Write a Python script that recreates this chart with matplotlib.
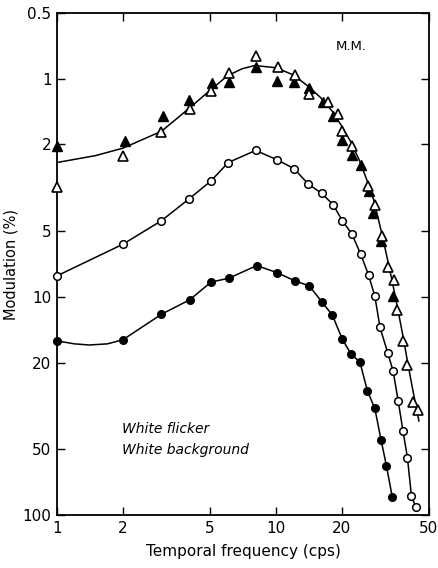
import matplotlib
matplotlib.use("Agg")
import matplotlib.pyplot as plt
from matplotlib.ticker import FixedLocator, FixedFormatter, NullLocator

plt.rcParams['font.family'] = ['DejaVu Sans']

# ── data ──

# open triangles
tri_open_x = [1.0, 2.0, 3.0, 4.05, 5.05, 6.1, 8.1, 10.2, 12.2, 14.1, 17.3, 19.3, 20.1, 22.2,
              26.4, 28.3, 30.6, 32.6, 34.7, 35.8, 38.1, 39.8, 42.1, 44.7]
tri_open_y = [3.15, 2.26, 1.75, 1.37, 1.14, 0.94, 0.79, 0.88, 0.96, 1.18, 1.28, 1.45, 1.74, 2.04,
              3.1, 3.79, 5.23, 7.26, 8.36, 11.5, 15.9, 20.5, 30.2, 33.0]

# filled triangles
tri_fill_x = [1.0, 2.04, 3.05, 4.0, 5.08, 6.1, 8.1, 10.1, 12.1, 14.2, 16.4, 18.2, 20.1, 22.2,
              24.5, 26.7, 27.9, 30.3, 34.1]
tri_fill_y = [2.03, 1.92, 1.48, 1.25, 1.05, 1.03, 0.88, 1.02, 1.03, 1.10, 1.28, 1.48, 1.90, 2.24,
              2.48, 3.27, 4.13, 5.54, 9.87]

# fitted curve through both triangle sets
tri_fit_x = [1.0, 1.5, 2.0, 3.0, 4.0, 5.0, 6.0, 7.0, 8.0, 10.0, 12.0, 14.0, 16.0, 18.0, 20.0,
             22.0, 24.0, 26.0, 28.0, 30.0, 32.0, 34.0, 36.0, 38.0, 40.0, 42.0, 45.0]
tri_fit_y = [2.42, 2.25, 2.08, 1.74, 1.37, 1.13, 0.97, 0.9, 0.87, 0.89, 0.96, 1.08, 1.22, 1.4, 1.65,
             1.95, 2.35, 2.9, 3.6, 4.8, 6.4, 8.5, 11.3, 15.0, 20.0, 26.0, 37.0]

# open circles
circ_open_x = [1.0, 2.0, 3.0, 4.0, 5.03, 6.06, 8.08, 10.1, 12.1, 14.05, 16.2, 18.3, 20.1, 22.2,
               24.4, 26.5, 28.3, 29.9, 32.4, 34.3, 36.2, 38.1, 39.9, 41.6, 43.6]
circ_open_y = [8.0, 5.73, 4.47, 3.56, 2.95, 2.42, 2.13, 2.35, 2.58, 3.04, 3.35, 3.79, 4.47, 5.13,
               6.37, 7.93, 9.9, 13.8, 18.0, 21.8, 30.0, 41.3, 54.6, 81.5, 92.2]

# filled circles
circ_fill_x = [1.0, 2.0, 3.0, 4.04, 5.05, 6.1, 8.17, 10.1, 12.2, 14.2, 16.3, 18.1, 20.1, 22.0,
               24.2, 26.2, 28.3, 30.2, 32.0, 34.0]
circ_fill_y = [15.9, 15.7, 12.0, 10.3, 8.55, 8.2, 7.18, 7.73, 8.43, 8.9, 10.6, 12.1, 15.6, 18.2,
               19.9, 27.0, 32.4, 45.0, 59.6, 82.4]

circ_fill_fit_x = [1.0, 1.2, 1.4, 1.7, 2.0, 3.0, 4.04, 5.05, 6.1, 8.17, 10.1, 12.2, 14.2, 16.3,
                   18.1, 20.1, 22.0, 24.2, 26.2, 28.3, 30.2, 32.0, 34.0]
circ_fill_fit_y = [15.9, 16.4, 16.6, 16.4, 15.7, 12.0, 10.3, 8.55, 8.2, 7.18, 7.73, 8.43, 8.9, 10.6,
                   12.1, 15.6, 18.2, 19.9, 27.0, 32.4, 45.0, 59.6, 82.4]

x_ticks = [1, 2, 5, 10, 20, 50]
y_ticks = [0.5, 1, 2, 5, 10, 20, 50, 100]

# ── figure ──

fig = plt.figure(figsize=(4.39, 5.68), dpi=100)
ax = fig.add_axes([0.130, 0.093, 0.847, 0.884])

lw = 1.1
ax.plot(tri_fit_x, tri_fit_y, '-', color='black', lw=lw, zorder=2)
ax.plot(circ_open_x, circ_open_y, '-', color='black', lw=lw, zorder=2)
ax.plot(circ_fill_fit_x, circ_fill_fit_y, '-', color='black', lw=lw, zorder=2)

ax.plot(tri_fill_x, tri_fill_y, '^', ms=7, mfc='black', mec='black', ls='none', clip_on=False, zorder=3)
ax.plot(tri_open_x, tri_open_y, '^', ms=7, mfc='white', mec='black', mew=1.2, ls='none',
        clip_on=False, zorder=4)
ax.plot(circ_open_x, circ_open_y, 'o', ms=5.5, mfc='white', mec='black', mew=1.1, ls='none',
        clip_on=False, zorder=4)
ax.plot(circ_fill_x, circ_fill_y, 'o', ms=5.5, mfc='black', mec='black', ls='none',
        clip_on=False, zorder=4)

ax.set_xscale('log')
ax.set_yscale('log')
ax.set_xlim(1, 50)
ax.set_ylim(100, 0.5)

ax.xaxis.set_major_locator(FixedLocator(x_ticks))
ax.xaxis.set_major_formatter(FixedFormatter([str(t) for t in x_ticks]))
ax.xaxis.set_minor_locator(NullLocator())
ax.yaxis.set_major_locator(FixedLocator(y_ticks))
ax.yaxis.set_major_formatter(FixedFormatter([f'{t:g}' for t in y_ticks]))
ax.yaxis.set_minor_locator(NullLocator())

ax.tick_params(direction='in', length=6, width=1.0, top=True, right=True,
               labelsize=11, pad=4)
for s in ax.spines.values():
    s.set_linewidth(1.3)

ax.set_xlabel('Temporal frequency (cps)', fontsize=11, labelpad=6)
ax.set_ylabel('Modulation (%)', fontsize=10.5, labelpad=3)

ax.text(22.2, 0.71, 'M.M.', fontsize=9.5, ha='center', va='center')
ax.text(0.174, 0.171, 'White flicker', transform=ax.transAxes, fontsize=10,
        style='italic', ha='left', va='center')
ax.text(0.174, 0.129, 'White background', transform=ax.transAxes, fontsize=10,
        style='italic', ha='left', va='center')

fig.savefig('out.png', dpi=100)
plt.close()
